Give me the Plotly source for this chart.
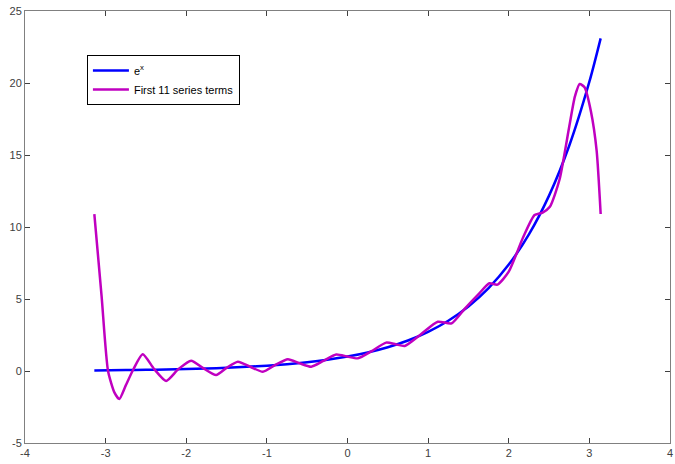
import plotly.graph_objects as go

# e^x curve
exp_x = [-3.14, -2.75, -2.5, -2.25, -2.0, -1.75, -1.5, -1.25, -1.0, -0.75, -0.5, -0.25,
         0.0, 0.25, 0.5, 0.75, 1.0, 1.25, 1.5, 1.75, 2.0, 2.25, 2.5, 2.75, 3.0, 3.14]
exp_y = [0.043, 0.064, 0.082, 0.105, 0.135, 0.174, 0.223, 0.287, 0.368, 0.472, 0.607, 0.779,
         1.0, 1.284, 1.649, 2.117, 2.718, 3.49, 4.482, 5.755, 7.389, 9.488, 12.18, 15.64, 20.09, 23.1]

# First 11 series terms
ser_x = [-3.14, -3.05, -2.97, -2.89, -2.83, -2.75, -2.66, -2.54, -2.40, -2.25, -2.10, -1.94,
         -1.79, -1.63, -1.50, -1.36, -1.20, -1.05, -0.90, -0.74, -0.60, -0.45, -0.30, -0.14,
         0.00, 0.13, 0.30, 0.48, 0.60, 0.71, 0.90, 1.12, 1.29, 1.45, 1.62, 1.76, 1.86, 2.00,
         2.18, 2.32, 2.42, 2.51, 2.63, 2.75, 2.82, 2.88, 2.94, 3.02, 3.09, 3.14]
ser_y = [10.9, 5.2, 0.0, -1.5, -1.94, -1.0, 0.07, 1.16, 0.15, -0.69, 0.12, 0.72,
         0.2, -0.28, 0.22, 0.65, 0.28, -0.05, 0.4, 0.82, 0.55, 0.3, 0.7, 1.15,
         1.0, 0.88, 1.38, 1.97, 1.85, 1.74, 2.5, 3.42, 3.31, 4.3, 5.3, 6.09, 6.0, 6.9,
         9.3, 10.83, 11.0, 11.4, 13.3, 16.96, 19.05, 19.93, 19.7, 18.0, 15.3, 10.9]

x_ticks = [-4, -3, -2, -1, 0, 1, 2, 3, 4]
x_tick_labels = ["-4", "-3", "-2", "-1", "0", "1", "2", "3", "4"]
y_ticks = [-5, 0, 5, 10, 15, 20, 25]
y_tick_labels = ["-5", "0", "5", "10", "15", "20", "25"]

fig = go.Figure()
fig.add_trace(go.Scatter(x=exp_x, y=exp_y, mode="lines", name="e<sup>x</sup>",
                         line=dict(color="#0000ff", width=2.5, shape="spline", smoothing=0.8)))
fig.add_trace(go.Scatter(x=ser_x, y=ser_y, mode="lines", name="First 11 series terms",
                         line=dict(color="#c000c0", width=2.5, shape="spline", smoothing=0.6)))

axis_common = dict(showgrid=False, zeroline=False, showline=True, linecolor="#808080",
                   linewidth=1, mirror="ticks", ticks="inside", ticklen=5, tickcolor="#404040",
                   automargin=False, ticklabeloverflow="allow",
                   tickfont=dict(family="Liberation Sans, Arial", size=11, color="#404040"))

fig.update_layout(
    width=675, height=464,
    margin=dict(l=25, r=5, t=11, b=21),
    paper_bgcolor="white", plot_bgcolor="white",
    xaxis=dict(range=[-4, 4], tickvals=x_ticks, ticktext=x_tick_labels, **axis_common),
    yaxis=dict(range=[-5, 25], tickvals=y_ticks, ticktext=y_tick_labels, **axis_common),
    legend=dict(x=0.096, y=0.898, xanchor="left", yanchor="top",
                bgcolor="white", bordercolor="#000000", borderwidth=1,
                font=dict(family="Liberation Sans, Arial", size=11, color="#000000"),
                itemwidth=36, tracegroupgap=0),
    showlegend=True,
)

fig.write_html("out.html", config={"displayModeBar": False},
               post_script="document.body.style.margin='0';document.body.style.overflow='hidden';")
